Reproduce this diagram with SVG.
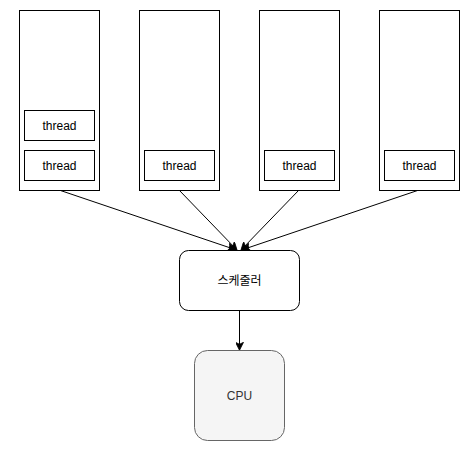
<svg xmlns="http://www.w3.org/2000/svg" width="471" height="451" viewBox="0 0 471 451">
<style>
.box{fill:#fff;stroke:#000;stroke-width:1}
.cpu{fill:#f5f5f5;stroke:#666;stroke-width:1}
.t{font-family:"Liberation Sans",Arial,sans-serif;font-size:12px;fill:#000;text-anchor:middle;dominant-baseline:central}
.tc{font-family:"Liberation Sans","Noto Sans CJK KR",sans-serif;font-size:12px;fill:#000;text-anchor:middle;dominant-baseline:central}
.tg{font-family:"Liberation Sans",Arial,sans-serif;font-size:12px;fill:#333;text-anchor:middle;dominant-baseline:central}
.e{stroke:#000;stroke-width:1;fill:none;marker-end:url(#a)}
</style>
<defs>
<marker id="a" viewBox="0 0 10 10" refX="9" refY="5" markerWidth="8" markerHeight="8" markerUnits="userSpaceOnUse" orient="auto">
<path d="M0,0 L10,5 L0,10 L2.5,5 z" fill="#000" stroke="#000" stroke-width="1"/>
</marker>
</defs>
<rect width="471" height="451" fill="#fff"/>
<g id="connectors">
<line class="e" x1="59" y1="190" x2="235" y2="249.5"/>
<line class="e" x1="179" y1="190" x2="236.5" y2="249.5"/>
<line class="e" x1="299" y1="190" x2="241.5" y2="249.5"/>
<line class="e" x1="419" y1="190" x2="243" y2="249.5"/>
<line class="e" x1="239.5" y1="310" x2="239.5" y2="349.5"/>
</g>
<g id="col1"><rect class="box" x="19.5" y="10.5" width="80" height="180"/></g>
<g id="col2"><rect class="box" x="139.5" y="10.5" width="80" height="180"/></g>
<g id="col3"><rect class="box" x="259.5" y="10.5" width="80" height="180"/></g>
<g id="col4"><rect class="box" x="379.5" y="10.5" width="80" height="180"/></g>
<g id="thread1a"><rect class="box" x="24.5" y="110.5" width="70" height="30"/><text class="t" x="59.5" y="126">thread</text></g>
<g id="thread1b"><rect class="box" x="24.5" y="150.5" width="70" height="30"/><text class="t" x="59.5" y="166">thread</text></g>
<g id="thread2"><rect class="box" x="144.5" y="150.5" width="70" height="30"/><text class="t" x="179.5" y="166">thread</text></g>
<g id="thread3"><rect class="box" x="264.5" y="150.5" width="70" height="30"/><text class="t" x="299.5" y="166">thread</text></g>
<g id="thread4"><rect class="box" x="384.5" y="150.5" width="70" height="30"/><text class="t" x="419.5" y="166">thread</text></g>
<g id="scheduler"><rect class="box" x="179.5" y="250.5" width="120" height="60" rx="9" ry="9"/><text class="tc" x="239.5" y="281">스케줄러</text></g>
<g id="cpu"><rect class="cpu" x="194.5" y="350.5" width="90" height="90" rx="13" ry="13"/><text class="tg" x="239.5" y="396">CPU</text></g>
</svg>
